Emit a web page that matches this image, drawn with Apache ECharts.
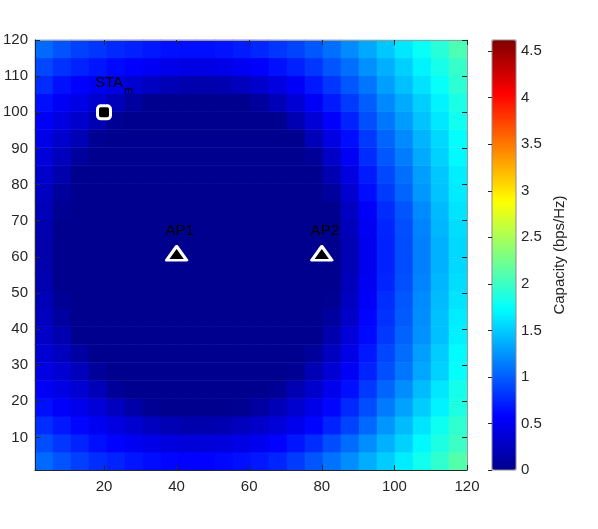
<!DOCTYPE html>
<html>
<head>
<meta charset="utf-8">
<title>Capacity map</title>
<script src="https://cdn.jsdelivr.net/npm/echarts@6/dist/echarts.min.js"></script>
<style>
html, body { margin: 0; padding: 0; background: #fff; }
#main { width: 598px; height: 529px; }
</style>
</head>
<body>
<div id="main"></div>
<script>
// centres of the capacity cells (5 m steps)
const xCells = [3, 8, 13, 18, 23, 28, 33, 38, 43, 48, 53, 58, 63, 68, 73, 78, 83, 88, 93, 98, 103, 108, 113, 118];
const yCells = [3, 8, 13, 18, 23, 28, 33, 38, 43, 48, 53, 58, 63, 68, 73, 78, 83, 88, 93, 98, 103, 108, 113, 118];

// capacity in bps/Hz, one row per y cell, bottom row first
const capacity = [
    [1.05,0.95,0.86,0.78,0.73,0.67,0.63,0.60,0.58,0.58,0.61,0.64,0.68,0.74,0.84,0.96,1.09,1.22,1.36,1.50,1.65,1.81,1.95,2.11],
    [0.92,0.82,0.73,0.64,0.58,0.51,0.46,0.41,0.38,0.38,0.41,0.45,0.50,0.58,0.67,0.78,0.92,1.06,1.22,1.38,1.53,1.70,1.86,2.00],
    [0.78,0.68,0.60,0.51,0.42,0.33,0.25,0.19,0.15,0.15,0.18,0.24,0.30,0.38,0.48,0.59,0.73,0.88,1.04,1.25,1.43,1.61,1.79,1.95],
    [0.64,0.55,0.47,0.37,0.24,0.13,0.03,0,0,0,0,0.01,0.10,0.21,0.33,0.46,0.60,0.76,0.92,1.13,1.31,1.50,1.68,1.86],
    [0.52,0.44,0.35,0.21,0.05,0,0,0,0,0,0,0,0,0.04,0.18,0.32,0.48,0.64,0.83,1.03,1.22,1.43,1.63,1.82],
    [0.43,0.34,0.22,0.06,0,0,0,0,0,0,0,0,0,0,0.03,0.19,0.36,0.53,0.73,0.93,1.11,1.33,1.53,1.75],
    [0.35,0.25,0.10,0,0,0,0,0,0,0,0,0,0,0,0,0.06,0.26,0.45,0.68,0.89,1.07,1.29,1.50,1.72],
    [0.29,0.17,0,0,0,0,0,0,0,0,0,0,0,0,0,0,0.16,0.38,0.62,0.83,1.02,1.24,1.45,1.67],
    [0.24,0.09,0,0,0,0,0,0,0,0,0,0,0,0,0,0,0.08,0.30,0.59,0.80,0.99,1.22,1.45,1.65],
    [0.20,0.04,0,0,0,0,0,0,0,0,0,0,0,0,0,0,0.01,0.26,0.55,0.78,0.97,1.20,1.43,1.61],
    [0.17,0,0,0,0,0,0,0,0,0,0,0,0,0,0,0,0,0.22,0.51,0.74,0.94,1.17,1.40,1.58],
    [0.15,0,0,0,0,0,0,0,0,0,0,0,0,0,0,0,0,0.19,0.49,0.72,0.92,1.15,1.38,1.56],
    [0.15,0,0,0,0,0,0,0,0,0,0,0,0,0,0,0,0,0.19,0.49,0.72,0.92,1.15,1.38,1.56],
    [0.17,0,0,0,0,0,0,0,0,0,0,0,0,0,0,0,0,0.22,0.51,0.74,0.93,1.17,1.40,1.58],
    [0.21,0.02,0,0,0,0,0,0,0,0,0,0,0,0,0,0,0,0.27,0.54,0.77,0.96,1.20,1.42,1.61],
    [0.26,0.07,0,0,0,0,0,0,0,0,0,0,0,0,0,0,0.07,0.33,0.63,0.84,1.03,1.26,1.46,1.64],
    [0.32,0.15,0,0,0,0,0,0,0,0,0,0,0,0,0,0,0.18,0.42,0.69,0.90,1.08,1.29,1.48,1.66],
    [0.39,0.23,0.07,0,0,0,0,0,0,0,0,0,0,0,0,0.05,0.29,0.52,0.77,0.97,1.14,1.35,1.53,1.71],
    [0.46,0.32,0.19,0.02,0,0,0,0,0,0,0,0,0,0,0,0.21,0.43,0.63,0.83,1.03,1.20,1.39,1.56,1.74],
    [0.54,0.42,0.32,0.18,0.02,0,0,0,0,0,0,0,0,0,0.18,0.37,0.56,0.73,0.93,1.11,1.28,1.46,1.63,1.81],
    [0.64,0.52,0.44,0.33,0.21,0.08,0,0,0,0,0,0,0.07,0.21,0.36,0.53,0.69,0.84,1.00,1.19,1.35,1.51,1.68,1.85],
    [0.77,0.65,0.57,0.50,0.43,0.34,0.27,0.20,0.16,0.15,0.18,0.24,0.32,0.42,0.54,0.68,0.82,0.97,1.11,1.29,1.45,1.60,1.76,1.93],
    [0.90,0.80,0.73,0.67,0.61,0.56,0.52,0.47,0.44,0.44,0.46,0.51,0.57,0.65,0.72,0.82,0.96,1.08,1.23,1.37,1.52,1.68,1.83,1.98],
    [1.05,0.95,0.87,0.81,0.76,0.72,0.68,0.65,0.64,0.64,0.66,0.70,0.75,0.81,0.88,0.97,1.08,1.21,1.34,1.48,1.63,1.77,1.91,2.07]
];

const xTicks = [20, 40, 60, 80, 100, 120];
const yTicks = [10, 20, 30, 40, 50, 60, 70, 80, 90, 100, 110, 120];
const cbTicks = [0, 0.5, 1, 1.5, 2, 2.5, 3, 3.5, 4, 4.5];
const capMax = 4.62;

const staPos = [20, 100];
const apNames = ['AP1', 'AP2'];
const apPos = [[40, 61], [80, 61]];

const jet = ['#00008f', '#0000ff', '#0080ff', '#00ffff', '#80ff80', '#ffff00', '#ff8000', '#ff0000', '#800000'];

const heat = [];
capacity.forEach((row, j) => row.forEach((v, i) => heat.push([i, j, v])));

const axisColor = '#262626';
const boxColor = '#9a9a9a';
const plot = { left: 35, top: 40, width: 432, height: 430 };

let myChart = echarts.init(document.getElementById('main'));
let option = {
    animation: false,
    textStyle: { fontFamily: "'Liberation Sans', Arial, Helvetica, sans-serif" },
    grid: [
        Object.assign({}, plot),
        Object.assign({}, plot),
        { left: 492, top: 40, width: 24, height: 430, show: true, borderColor: '#8c8c8c', borderWidth: 1, z: 10 }
    ],
    xAxis: [
        { type: 'category', gridIndex: 0, data: xCells, show: false },
        {
            type: 'value', gridIndex: 1, min: 1, max: 120, position: 'bottom', z: 10,
            axisLine: { lineStyle: { color: axisColor, width: 1 } },
            axisTick: { inside: true, length: 5, customValues: xTicks, lineStyle: { color: axisColor } },
            axisLabel: { customValues: xTicks, fontSize: 15, color: axisColor, margin: 9 },
            splitLine: { show: false }
        },
        {
            type: 'value', gridIndex: 1, min: 1, max: 120, position: 'top', z: 10,
            axisLine: { lineStyle: { color: boxColor, width: 1 } },
            axisTick: { inside: true, length: 5, customValues: xTicks, lineStyle: { color: axisColor } },
            axisLabel: { show: false },
            splitLine: { show: false }
        },
        { type: 'value', gridIndex: 2, min: 0, max: 1, show: false }
    ],
    yAxis: [
        { type: 'category', gridIndex: 0, data: yCells, show: false },
        {
            type: 'value', gridIndex: 1, min: 1, max: 120, position: 'left', z: 10,
            axisLine: { lineStyle: { color: axisColor, width: 1 } },
            axisTick: { inside: true, length: 5, customValues: yTicks, lineStyle: { color: axisColor } },
            axisLabel: { customValues: yTicks, fontSize: 15, color: axisColor, margin: 7 },
            splitLine: { show: false }
        },
        {
            type: 'value', gridIndex: 1, min: 1, max: 120, position: 'right', z: 10,
            axisLine: { lineStyle: { color: boxColor, width: 1 } },
            axisTick: { inside: true, length: 5, customValues: yTicks, lineStyle: { color: axisColor } },
            axisLabel: { show: false },
            splitLine: { show: false }
        },
        {
            type: 'value', gridIndex: 2, min: 0, max: capMax, position: 'right', z: 12,
            axisLine: { show: false },
            axisTick: { inside: true, length: 4, customValues: cbTicks, lineStyle: { color: axisColor } },
            axisLabel: { customValues: cbTicks, fontSize: 15, color: axisColor, margin: 5 },
            splitLine: { show: false },
            name: 'Capacity (bps/Hz)',
            nameLocation: 'middle',
            nameRotate: 90,
            nameGap: 36,
            nameTextStyle: { fontSize: 15, color: axisColor }
        }
    ],
    visualMap: {
        type: 'continuous',
        seriesIndex: 0,
        dimension: 2,
        min: 0,
        max: capMax,
        calculable: false,
        hoverLink: false,
        orient: 'vertical',
        left: 492,
        top: 40,
        padding: 0,
        itemWidth: 24,
        itemHeight: 430,
        text: null,
        inRange: { color: jet }
    },
    series: [
        {
            type: 'heatmap',
            xAxisIndex: 0,
            yAxisIndex: 0,
            data: heat,
            progressive: 0,
            silent: true,
            emphasis: { disabled: true }
        },
        {
            type: 'scatter',
            xAxisIndex: 1,
            yAxisIndex: 1,
            z: 20,
            silent: true,
            symbol: 'roundRect',
            symbolSize: 13,
            itemStyle: { color: '#000', borderColor: '#fff', borderWidth: 3, opacity: 1 },
            label: {
                show: true,
                position: 'top',
                distance: 8,
                offset: [10, 0],
                formatter: '{s|STA}{m|m}',
                rich: {
                    s: { fontSize: 15, color: '#000', verticalAlign: 'top' },
                    m: { fontSize: 11, color: '#000', verticalAlign: 'top', padding: [10, 0, 0, 1] }
                }
            },
            data: [staPos]
        },
        {
            type: 'scatter',
            xAxisIndex: 1,
            yAxisIndex: 1,
            z: 20,
            silent: true,
            symbol: 'triangle',
            symbolSize: [20, 14],
            itemStyle: { color: '#000', borderColor: '#fff', borderWidth: 3, borderJoin: 'round', opacity: 1 },
            label: {
                show: true,
                position: 'top',
                distance: 7,
                offset: [3, 0],
                formatter: p => p.name,
                fontSize: 15,
                color: '#000'
            },
            data: apPos.map((p, i) => ({ name: apNames[i], value: p }))
        }
    ]
};
myChart.setOption(option);
</script>
</body>
</html>
